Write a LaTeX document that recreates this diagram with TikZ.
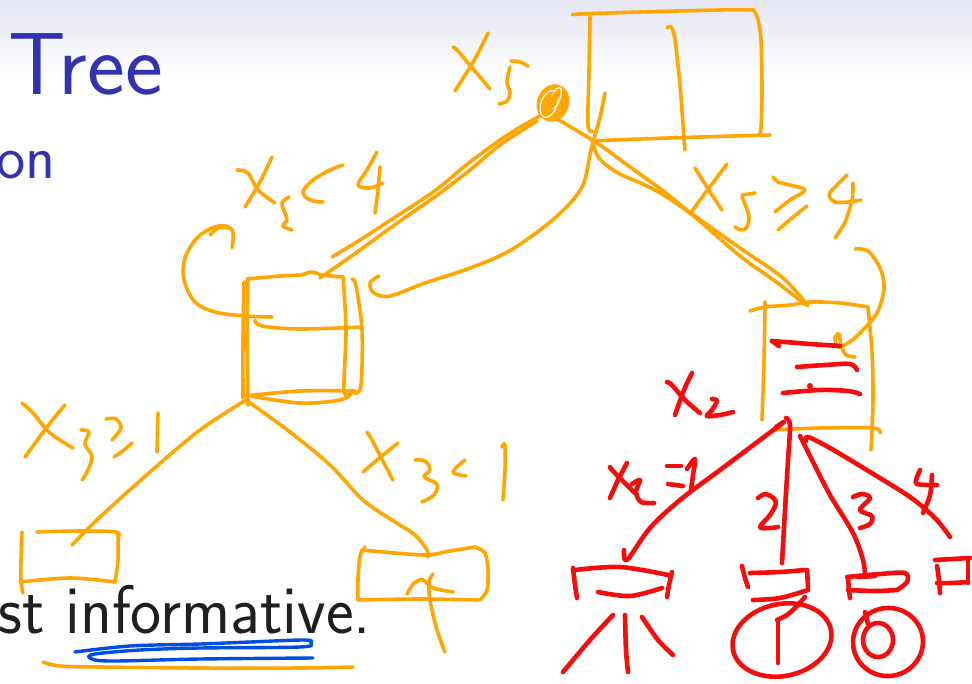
\documentclass[tikz,border=0pt]{standalone}
\usepackage{fontspec}
\usepackage{graphicx}
\definecolor{hor}{RGB}{255,166,0}
\definecolor{hred}{RGB}{245,12,12}
\definecolor{hblue}{RGB}{0,78,225}
\definecolor{sblue}{RGB}{51,51,178}
\definecolor{hdr}{RGB}{228,229,242}
\tikzset{
  ostroke/.style={draw=hor, line width=3.6pt, line cap=round, line join=round},
  rstroke/.style={draw=hred, line width=4.6pt, line cap=round, line join=round},
  bstroke/.style={draw=hblue, line width=3.4pt, line cap=round, line join=round},
  sm/.style={smooth, tension=0.55},
  slidetext/.style={anchor=base east, inner sep=0pt, font=\sffamily},
}
\begin{document}
\begin{tikzpicture}[x=1pt,y=-1pt]
\useasboundingbox (0,0) rectangle (972,683);
\clip (0,0) rectangle (972,683);
\fill[white] (0,0) rectangle (972,683);
\shade[top color=hdr, bottom color=white] (0,0) rectangle (972,78);

% slide text
\node[slidetext, text=sblue, font=\sffamily\fontsize{90}{100}\selectfont] (title) at (163,94) {\scalebox{1}[0.98]{Tree}};
\node[slidetext, text=sblue, font=\sffamily\fontsize{62}{70}\selectfont] (sub) at (56,178) {ion};
\node[slidetext, text=black!88, font=\sffamily\fontsize{66}{76}\selectfont] (body) at (371,633) {\scalebox{1}[1.04]{st informative.}};

% named tree points
\coordinate (root) at (553,103);
\coordinate (lcTop) at (320,278);
\coordinate (lcBot) at (246,400);
\coordinate (rcTop) at (806,305);
\coordinate (rcBot) at (784,422);
\coordinate (llEnd) at (72,545);
\coordinate (rlEnd) at (428,557);

% ---------- root box ----------
\draw[ostroke] plot[sm] coordinates {(573,15) (580,14) (640,12) (720,10) (754,10)};
\draw[ostroke] plot[sm] coordinates {(755,12) (758,20) (761,40) (762,90) (761,128) (759,134)};
\draw[ostroke] plot[sm] coordinates {(590,17) (589,70) (588,125) (593,131)};
\draw[ostroke] plot[sm] coordinates {(592,141) (640,139) (700,137) (770,135)};
\draw[ostroke] plot[sm] coordinates {(667,28) (671,27) (675,40) (680,85) (683,125) (685,150)};

% root scribble
\fill[hor] (root) ellipse [x radius=16pt, y radius=19pt, rotate=-20];
\draw[white, line width=1.2pt] (556,98) ellipse [x radius=4pt, y radius=11pt, rotate=-20];
\draw[white, line width=1.2pt] (549,104) ellipse [x radius=8pt, y radius=14pt, rotate=-20];
\draw[ostroke, line width=2.4pt] (554,100) ellipse [x radius=2pt, y radius=8pt, rotate=-20];

% X5 label
\draw[ostroke] plot[sm] coordinates {(453,47) (458,51) (474,70) (490,89)};
\draw[ostroke] plot[sm] coordinates {(488,33) (476,57) (462,80) (455,91)};
\draw[ostroke] plot[sm] coordinates {(511,61) (520,62) (528,66)};
\draw[ostroke] plot[sm] coordinates {(510,67) (507,82) (510,93) (507,101) (499,104)};

% root -> left child
\draw[ostroke] plot[sm] coordinates {(540,116) (509,134) (470,162) (436,190) (400,214) (360,240) (332,257)};
\draw[ostroke] plot[sm] coordinates {(537,121) (500,145) (470,170) (436,196) (400,221) (360,250) (lcTop)};

% curve from root box down to hook
\draw[ostroke] plot[sm] coordinates {(605,93) (600,117) (591,150) (582,187) (556,217) (511,250) (470,268) (425,283) (390,296) (374,293) (370,283) (379,276)};

% root -> right child
\draw[ostroke] plot[sm] coordinates {(557,119) (597,143) (630,167) (662,190) (691,213) (740,248) (783,278) (808,306)};
\draw[ostroke] plot[sm] coordinates {(593,143) (599,158) (618,173) (655,190) (691,214) (740,256) (775,281) (rcTop)};

% X5>=4 label
\draw[ostroke] plot[sm] coordinates {(695,168) (700,176) (712,195) (722,210)};
\draw[ostroke] plot[sm] coordinates {(727,164) (715,180) (700,200) (691,213)};
\draw[ostroke] plot[sm] coordinates {(742,195) (749,194) (755,193)};
\draw[ostroke] plot[sm] coordinates {(742,197) (746,207) (749,217) (747,227) (742,230) (735,227)};
\draw[ostroke] plot[sm] coordinates {(773,177) (778,182) (790,185) (805,190) (790,200) (775,212)};
\draw[ostroke] plot[sm] coordinates {(807,206) (792,218) (778,230)};
\draw[ostroke] plot[sm] coordinates {(847,175) (836,186) (829,195) (835,202) (848,202) (861,200)};
\draw[ostroke] plot[sm] coordinates {(853,183) (852,200) (845,222) (835,238)};

% curve into right child
\draw[ostroke] plot[sm] coordinates {(855,249) (868,251) (880,268) (884,288) (877,313) (860,333) (848,343) (838,347) (835,338) (839,334) (841,345) (846,355) (855,357)};

% right child box
\draw[ostroke] plot[sm] coordinates {(750,311) (765,307) (790,305) (810,302) (840,303) (868,307)};
\draw[ostroke] plot[sm] coordinates {(765,302) (764,360) (762,420)};
\draw[ostroke] plot[sm] coordinates {(868,307) (872,353) (873,400) (871,450)};
\draw[ostroke] plot[sm] coordinates {(772,430) (820,428) (873,428) (880,433)};

% red marks inside right child
\draw[rstroke] plot[sm] coordinates {(840,346) (810,344) (785,342) (772,341)};
\draw[rstroke] (772,341) -- (779,346);
\draw[rstroke] plot[sm] coordinates {(797,367) (825,365) (850,364) (857,370)};
\draw[rstroke] plot[sm] coordinates {(783,393) (820,390) (848,391) (860,394)};
\fill[hred] (810,386) circle (3pt);

% X2 label
\draw[rstroke] plot[sm] coordinates {(667,382) (672,385) (685,400) (700,413)};
\draw[rstroke] plot[sm] coordinates {(692,373) (684,390) (675,415)};
\draw[rstroke] plot[sm] coordinates {(712,399) (717,401) (712,410) (707,416) (720,415) (733,412)};

% red branches
\draw[rstroke] plot[sm] coordinates {(776,427) (rcBot) (760,440) (720,470) (680,500) (650,528) (627,560) (624,550)};
\draw[rstroke] plot[sm] coordinates {(786,418) (790,425) (788,460) (785,510) (782,563)};
\draw[rstroke] plot[sm] coordinates {(800,436) (812,460) (830,495) (853,533) (863,560) (865,575)};
\draw[rstroke] plot[sm] coordinates {(806,441) (808,437) (830,448) (870,472) (910,497) (935,518) (950,537)};

% branch labels
\draw[rstroke] plot[sm] coordinates {(610,467) (614,472) (635,493)};
\draw[rstroke] plot[sm] coordinates {(627,463) (618,480) (610,498)};
\draw[rstroke] plot[sm] coordinates {(632,484) (640,480) (636,492) (641,502) (654,503)};
\draw[rstroke] (667,466) -- (681,466);
\draw[rstroke] (668,484) -- (683,486);
\draw[rstroke] plot[sm] coordinates {(687,469) (695,459) (693,475) (691,490)};
\draw[rstroke] plot[sm] coordinates {(758,498) (765,494) (772,497) (776,503) (770,515) (760,527) (770,528) (778,527)};
\draw[rstroke] plot[sm] coordinates {(853,497) (862,494) (870,498) (860,510) (872,516) (870,524) (860,528)};
\draw[rstroke] plot[sm] coordinates {(920,470) (916,480) (917,484) (928,485) (937,485)};
\draw[rstroke] plot[sm] coordinates {(932,475) (930,495) (923,513)};

% leaf 1
\draw[rstroke] plot[sm] coordinates {(575,570) (620,567) (668,575)};
\draw[rstroke] plot[sm] coordinates {(573,568) (575,585) (577,598)};
\draw[rstroke] plot[sm] coordinates {(672,572) (669,585) (667,597)};
\draw[rstroke] plot[sm] coordinates {(598,592) (630,596) (662,588)};
\draw[rstroke] plot[sm] coordinates {(613,615) (590,640) (563,672)};
\draw[rstroke] plot[sm] coordinates {(625,615) (626,650) (628,672)};
\draw[rstroke] plot[sm] coordinates {(642,617) (658,640) (673,655)};
% leaf 2
\draw[rstroke] plot[sm] coordinates {(742,566) (745,578) (748,587)};
\draw[rstroke] plot[sm] coordinates {(750,573) (780,572) (805,570)};
\draw[rstroke] plot[sm] coordinates {(807,570) (808,587)};
\draw[rstroke] plot[sm] coordinates {(753,600) (780,598) (808,590)};
\draw[rstroke] (782,640) ellipse [x radius=50pt, y radius=36pt, rotate=12];
\draw[rstroke] plot[sm] coordinates {(777,620) (787,615) (795,608) (805,597)};
\draw[rstroke] (778,620) -- (778,663);
% leaf 3
\draw[rstroke] plot[sm] coordinates {(847,577) (880,574) (905,573) (907,582) (897,590)};
\draw[rstroke] plot[sm] coordinates {(848,590) (875,591) (897,590)};
\draw[rstroke] plot[sm] coordinates {(848,577) (849,590) (850,598)};
\draw[rstroke] (858,577) -- (875,576);
\draw[rstroke] (888,642) ellipse [x radius=35pt, y radius=34pt, rotate=10];
\draw[rstroke] (878,640) ellipse [x radius=15pt, y radius=17pt];
\draw[rstroke] (865,612) -- (868,624);
% leaf 4
\draw[rstroke] plot[sm] coordinates {(935,560) (952,559) (970,558)};
\draw[rstroke] plot[sm] coordinates {(937,566) (939,580) (940,593)};
\draw[rstroke] (968,560) -- (968,583);
\draw[rstroke] plot[sm] coordinates {(937,583) (952,583) (968,582)};

% ---------- left subtree ----------
% X5<4 label
\draw[ostroke] plot[sm] coordinates {(237,170) (248,173) (258,190) (275,203)};
\draw[ostroke] plot[sm] coordinates {(272,157) (260,182) (245,207)};
\draw[ostroke] plot[sm] coordinates {(289,197) (282,203) (285,213) (287,220) (283,226) (292,230)};
\draw[ostroke] plot[sm] coordinates {(343,165) (330,170) (313,180) (303,192) (310,200) (323,202)};
\draw[ostroke] plot[sm] coordinates {(377,152) (367,170) (358,185) (370,188) (383,183)};
\draw[ostroke] plot[sm] coordinates {(380,167) (378,190) (375,213)};

% loop left of left child
\draw[ostroke] plot[sm] coordinates {(232,248) (233,232) (225,226) (212,228) (197,238) (185,258) (184,280) (195,302) (215,312) (245,316) (272,317)};
\draw[ostroke] plot[sm] coordinates {(210,235) (218,228) (228,228)};

% left child box
\draw[ostroke] plot[sm] coordinates {(248,280) (247,340) (248,405)};
\draw[ostroke] plot[sm] coordinates {(244,282) (243,340) (243,398)};
\draw[ostroke] plot[sm] coordinates {(247,279) (280,276) (300,275) (312,272) (322,275) (343,277)};
\draw[ostroke] plot[sm] coordinates {(343,277) (346,330) (344,390) (350,394)};
\draw[ostroke] plot[sm] coordinates {(352,279) (356,286) (362,330) (361,385) (355,393)};
\draw[ostroke] plot[sm] coordinates {(245,396) (300,391) (355,391)};
\draw[ostroke] plot[sm] coordinates {(250,396) (300,403) (340,400) (353,392)};
\draw[ostroke] plot[sm] coordinates {(255,320) (262,326) (300,329) (362,327)};

% left child -> leaves
\draw[ostroke] plot[sm] coordinates {(lcBot) (200,430) (150,472) (100,517) (llEnd)};
\draw[ostroke] plot[sm] coordinates {(lcBot) (290,432) (330,465) (363,500) (395,522) (415,535) (427,550) (rlEnd)};

% X3>=1 label
\draw[ostroke] plot[sm] coordinates {(22,403) (33,413) (50,433) (73,448)};
\draw[ostroke] plot[sm] coordinates {(65,405) (50,423) (25,457)};
\draw[ostroke] plot[sm] coordinates {(81,430) (89,432) (85,444) (92,456) (88,470) (82,480)};
\draw[ostroke] plot[sm] coordinates {(106,419) (116,419) (121,428) (112,440)};
\draw[ostroke] plot[sm] coordinates {(114,457) (124,450) (132,443)};
\draw[ostroke] (158,413) -- (157,452);

% X3<1 label
\draw[ostroke] plot[sm] coordinates {(367,432) (372,440) (385,465) (393,480)};
\draw[ostroke] plot[sm] coordinates {(398,443) (383,455) (363,472)};
\draw[ostroke] plot[sm] coordinates {(415,460) (425,461) (430,470) (424,477) (437,484) (434,495) (422,502)};
\draw[ostroke] plot[sm] coordinates {(465,460) (453,472) (466,476)};
\draw[ostroke] plot[sm] coordinates {(502,447) (505,445) (505,470) (503,500)};

% left leaf
\draw[ostroke] plot[sm] coordinates {(37,532) (80,531) (116,532) (118,537)};
\draw[ostroke] plot[sm] coordinates {(118,534) (118,560) (115,582)};
\draw[ostroke] plot[sm] coordinates {(20,582) (70,578) (115,582)};
\draw[ostroke] plot[sm] coordinates {(22,532) (21,560) (21,582) (23,593)};

% right leaf
\draw[ostroke] plot[sm] coordinates {(362,550) (395,553) (427,555) (450,551) (475,547)};
\draw[ostroke] plot[sm] coordinates {(475,547) (485,553) (488,570) (487,590) (480,600)};
\draw[ostroke] plot[sm] coordinates {(358,600) (420,599) (478,600)};
\draw[ostroke] plot[sm] coordinates {(365,547) (360,556) (358,580) (358,600)};
\draw[ostroke] plot[sm] coordinates {(433,574) (429,582) (430,600) (437,630) (445,652)};
\draw[ostroke] plot[sm] coordinates {(407,594) (414,583) (423,580) (433,588) (453,592)};

% underlines
\draw[bstroke] plot[sm] coordinates {(75,652) (130,646) (200,644) (250,642) (305,640) (311,643) (300,647) (200,648) (140,650) (95,654) (90,658) (110,661) (200,659) (313,658)};
\draw[ostroke] plot[sm] coordinates {(43,662) (60,666) (100,667) (200,668) (300,668) (353,667)};
\end{tikzpicture}
\end{document}
